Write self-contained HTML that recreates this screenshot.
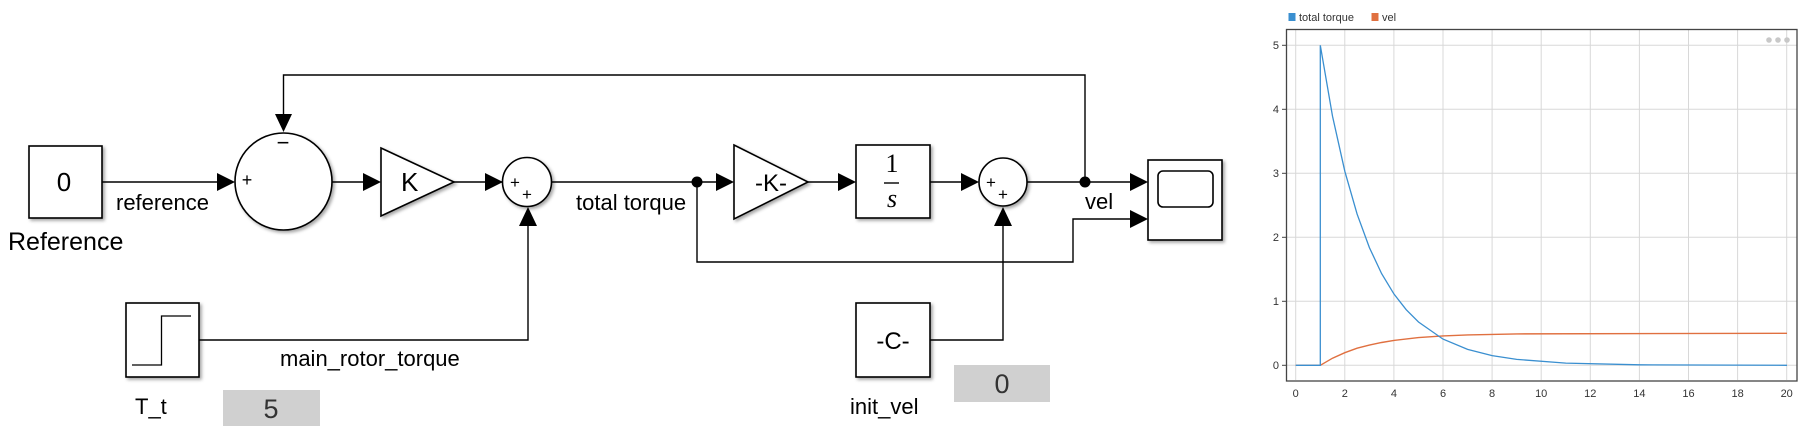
<!DOCTYPE html>
<html><head><meta charset="utf-8"><style>
html,body{margin:0;padding:0;background:#fff;}
svg{display:block;}
text{font-family:"Liberation Sans",sans-serif;}
</style></head><body>
<svg width="1815" height="437" viewBox="0 0 1815 437" xmlns="http://www.w3.org/2000/svg">
<defs>
<filter id="sh" x="-10%" y="-10%" width="130%" height="130%"><feDropShadow dx="2" dy="2" stdDeviation="1.5" flood-color="#000" flood-opacity="0.35"/></filter>
</defs>
<g stroke="#000" stroke-width="1.4" fill="none">
<!-- main path lines -->
<line x1="102" y1="182" x2="220" y2="182"/>
<line x1="332" y1="182" x2="366" y2="182"/>
<line x1="454" y1="182" x2="506" y2="182"/>
<line x1="552" y1="182" x2="718" y2="182"/>
<line x1="808" y1="182" x2="840" y2="182"/>
<line x1="930" y1="182" x2="962" y2="182"/>
<line x1="1027" y1="182" x2="1133" y2="182"/>
<polyline points="1085,182 1085,75 283.5,75 283.5,116"/>
<polyline points="697,182 697,262 1073,262 1073,219 1133,219"/>
<polyline points="199,340 528,340 528,224"/>
<polyline points="930,340 1003,340 1003,224"/>
</g>
<g fill="#000">
<!-- arrowheads -->
<polygon points="217,173 235,182 217,191"/>
<polygon points="363,173 381,182 363,191"/>
<polygon points="485,173 503,182 485,191"/>
<polygon points="716,173 734,182 716,191"/>
<polygon points="838,173 856,182 838,191"/>
<polygon points="961,173 979,182 961,191"/>
<polygon points="1130,173 1148,182 1130,191"/>
<polygon points="1130,210 1148,219 1130,228"/>
<polygon points="275,114 292,114 283.5,132"/>
<polygon points="519,226 537,226 528,207"/>
<polygon points="994,226 1012,226 1003,207"/>
<circle cx="697" cy="182" r="5.5"/>
<circle cx="1085" cy="182" r="5.5"/>
</g>
<!-- blocks -->
<g stroke="#000" stroke-width="1.6" fill="#fff" filter="url(#sh)">
<rect x="29" y="146" width="73" height="72"/>
<ellipse cx="283.5" cy="181.5" rx="48.5" ry="48.5"/>
<polygon points="381,148 454,182 381,216"/>
<circle cx="527" cy="182" r="24.5"/>
<polygon points="734,145 808,182 734,219"/>
<rect x="856" y="145" width="74" height="73"/>
<circle cx="1003" cy="182" r="24"/>
<rect x="1148" y="160" width="74" height="80"/>
<rect x="126" y="303" width="73" height="74"/>
<rect x="856" y="303" width="74" height="74"/>
</g>
<rect x="1158" y="171" width="55" height="36" rx="5" fill="none" stroke="#000" stroke-width="1.6"/>
<polyline points="132,365 161.5,365 161.5,316 191,316" fill="none" stroke="#000" stroke-width="1.3"/>
<line x1="884" y1="183" x2="899" y2="183" stroke="#000" stroke-width="1.4"/>
<!-- text -->
<g fill="#000">
<text x="64" y="191" font-size="26" text-anchor="middle">0</text>
<text x="116" y="210" font-size="22">reference</text>
<text x="8" y="250" font-size="25">Reference</text>
<text x="283" y="150" font-size="22" text-anchor="middle">−</text>
<text x="247" y="186" font-size="18" text-anchor="middle">+</text>
<text x="401" y="191" font-size="26">K</text>
<text x="515" y="188" font-size="17" text-anchor="middle">+</text>
<text x="527" y="200" font-size="17" text-anchor="middle">+</text>
<text x="576" y="210" font-size="22">total torque</text>
<text x="771" y="191" font-size="24" text-anchor="middle">-K-</text>
<text x="892" y="172" font-size="26" text-anchor="middle" style="font-family:'Liberation Serif',serif">1</text>
<text x="892" y="207" font-size="26" text-anchor="middle" font-style="italic" style="font-family:'Liberation Serif',serif">s</text>
<text x="991" y="188" font-size="17" text-anchor="middle">+</text>
<text x="1003" y="200" font-size="17" text-anchor="middle">+</text>
<text x="1085" y="209" font-size="22">vel</text>
<text x="893" y="349" font-size="24" text-anchor="middle">-C-</text>
<text x="280" y="366" font-size="22">main_rotor_torque</text>
<text x="135" y="414" font-size="22">T_t</text>
<text x="850" y="414" font-size="22">init_vel</text>
</g>
<rect x="223" y="390" width="97" height="36" fill="#d0d0d0"/>
<text x="271" y="418" font-size="27" text-anchor="middle" fill="#333">5</text>
<rect x="954" y="365" width="96" height="37" fill="#d0d0d0"/>
<text x="1002" y="393" font-size="27" text-anchor="middle" fill="#333">0</text>
<!-- plot -->
<rect x="1288.5" y="13" width="7" height="8" fill="#3a8fd0"/>
<text x="1299" y="21" font-size="11" fill="#333">total torque</text>
<rect x="1371.5" y="13" width="7" height="8" fill="#e07040"/>
<text x="1382" y="21" font-size="11" fill="#333">vel</text>
<g stroke="#d8d8d8" stroke-width="1">
<line x1="1295.7" y1="30" x2="1295.7" y2="380"/><line x1="1344.8" y1="30" x2="1344.8" y2="380"/>
<line x1="1393.9" y1="30" x2="1393.9" y2="380"/><line x1="1443" y1="30" x2="1443" y2="380"/>
<line x1="1492.1" y1="30" x2="1492.1" y2="380"/><line x1="1541.2" y1="30" x2="1541.2" y2="380"/>
<line x1="1590.3" y1="30" x2="1590.3" y2="380"/><line x1="1639.4" y1="30" x2="1639.4" y2="380"/>
<line x1="1688.5" y1="30" x2="1688.5" y2="380"/><line x1="1737.6" y1="30" x2="1737.6" y2="380"/>
<line x1="1786.7" y1="30" x2="1786.7" y2="380"/>
<line x1="1287" y1="45.3" x2="1797" y2="45.3"/><line x1="1287" y1="109.3" x2="1797" y2="109.3"/>
<line x1="1287" y1="173.3" x2="1797" y2="173.3"/><line x1="1287" y1="237.3" x2="1797" y2="237.3"/>
<line x1="1287" y1="301.3" x2="1797" y2="301.3"/><line x1="1287" y1="365.3" x2="1797" y2="365.3"/>
</g>
<rect x="1286.5" y="29.5" width="510.5" height="351.5" fill="none" stroke="#444" stroke-width="1.3"/>
<g stroke="#444" stroke-width="1">
<line x1="1282" y1="45.3" x2="1286" y2="45.3"/><line x1="1282" y1="109.3" x2="1286" y2="109.3"/>
<line x1="1282" y1="173.3" x2="1286" y2="173.3"/><line x1="1282" y1="237.3" x2="1286" y2="237.3"/>
<line x1="1282" y1="301.3" x2="1286" y2="301.3"/><line x1="1282" y1="365.3" x2="1286" y2="365.3"/>
</g>
<g font-size="11" fill="#333" text-anchor="end">
<text x="1279" y="49">5</text><text x="1279" y="113">4</text><text x="1279" y="177">3</text>
<text x="1279" y="241">2</text><text x="1279" y="305">1</text><text x="1279" y="369">0</text>
</g>
<g font-size="11" fill="#333" text-anchor="middle">
<text x="1295.7" y="397">0</text><text x="1344.8" y="397">2</text><text x="1393.9" y="397">4</text>
<text x="1443" y="397">6</text><text x="1492.1" y="397">8</text><text x="1541.2" y="397">10</text>
<text x="1590.3" y="397">12</text><text x="1639.4" y="397">14</text><text x="1688.5" y="397">16</text>
<text x="1737.6" y="397">18</text><text x="1786.7" y="397">20</text>
</g>
<g fill="#c8c8c8"><circle cx="1769" cy="40" r="2.8"/><circle cx="1778" cy="40" r="2.8"/><circle cx="1787" cy="40" r="2.8"/></g>
<polyline fill="none" stroke="#e07040" stroke-width="1.4" points="1295.7,365.3 1320.3,365.3 1332.5,358.2 1344.8,352.7 1357.1,348.2 1369.4,345.1 1381.6,342.5 1393.9,340.4 1418.5,337.6 1443,335.9 1467.6,334.9 1516.7,333.9 1787,333.3"/>
<polyline fill="none" stroke="#3a8fd0" stroke-width="1.3" points="1295.7,365.3 1320.3,365.3 1320.3,45.3 1332.5,116.1 1344.8,171.2 1357.1,214.1 1369.4,247.6 1381.6,273.6 1393.9,293.9 1406.2,309.7 1418.5,322 1443,339.1 1467.6,349.4 1492.1,355.6 1516.7,359.4 1565.8,363.1 1639.4,364.8 1787,365.3"/>
</svg>
</body></html>
